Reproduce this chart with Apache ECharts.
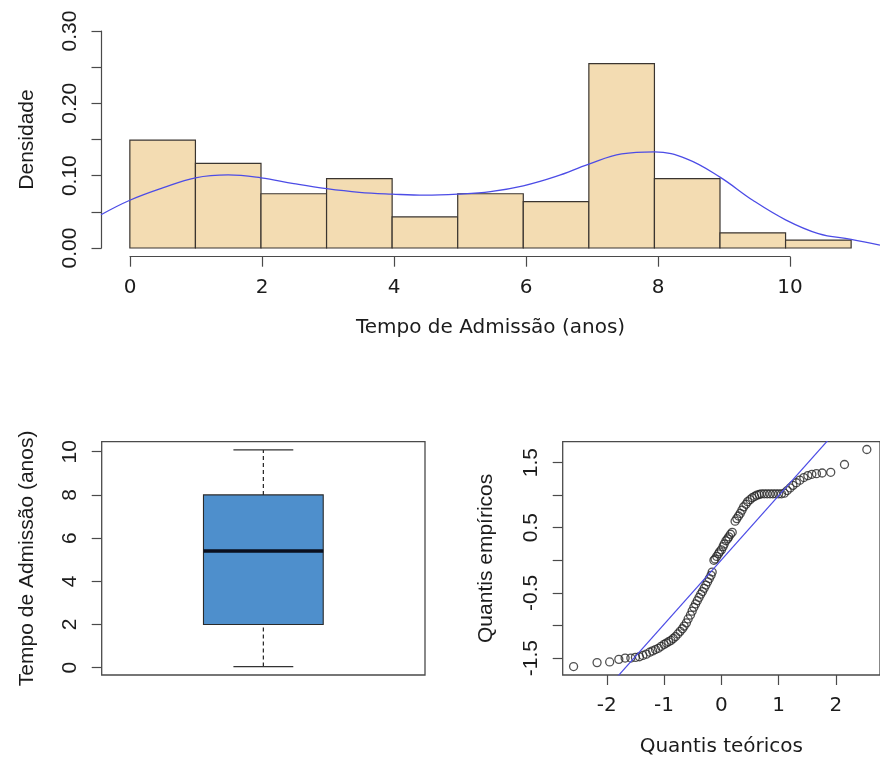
<!DOCTYPE html>
<html>
<head>
    <meta charset="UTF-8">
    <title>Tempo de Admissão</title>
    <script src="https://cdn.jsdelivr.net/npm/echarts@6/dist/echarts.min.js"></script>
    <style>
        html, body { margin: 0; padding: 0; background: #fff; }
        #chart { width: 880px; height: 760px; }
    </style>
</head>
<body>
<div id="chart"></div>
<script>
    // histograma (classes de 1 ano) + densidade
    var binStarts = [0, 1, 2, 3, 4, 5, 6, 7, 8, 9, 10];
    var densidades = [0.149, 0.117, 0.075, 0.096, 0.043, 0.075, 0.064, 0.255, 0.096, 0.021, 0.011];

    var densX = [-0.44, 0, 0.5, 1, 1.5, 2, 2.5, 3, 3.5, 4, 4.5, 5, 5.5, 6, 6.5, 7, 7.5, 8, 8.5, 9, 9.5, 10, 10.5, 11, 11.44];
    var densY = [0.046, 0.066, 0.083, 0.097, 0.101, 0.097, 0.089, 0.082, 0.077, 0.0745, 0.073, 0.0745, 0.078, 0.086, 0.099,
                 0.116, 0.130, 0.133, 0.123, 0.098, 0.066, 0.039, 0.020, 0.012, 0.004];

    var histTicksX = [0, 2, 4, 6, 8, 10];
    var histTicksY = [0, 0.05, 0.10, 0.15, 0.20, 0.25, 0.30];
    var histLabelsY = [0, 0.10, 0.20, 0.30];

    // boxplot: minimo, Q1, mediana, Q3, maximo
    var boxStats = [0.05, 2.0, 5.4, 8.0, 10.08];
    var boxTicks = [0, 2, 4, 6, 8, 10];

    // grafico quantil-quantil
    var qqTeo = [-2.58, -2.17, -1.95, -1.79, -1.68, -1.58, -1.50, -1.43, -1.37, -1.31, -1.25, -1.20, -1.15, -1.10, -1.05,
                 -1.00, -0.96, -0.92, -0.88, -0.84, -0.80, -0.76, -0.72, -0.68, -0.65, -0.61, -0.58, -0.54, -0.51, -0.48,
                 -0.45, -0.42, -0.39, -0.36, -0.33, -0.30, -0.27, -0.24, -0.21, -0.18, -0.16,
                 -0.13, -0.11, -0.08, -0.05, -0.03, 0.00, 0.03, 0.05, 0.08, 0.11, 0.13, 0.16, 0.19,
                 0.24, 0.27, 0.30, 0.33, 0.36, 0.39, 0.43, 0.46, 0.50, 0.54, 0.58, 0.62, 0.66, 0.70, 0.75,
                 0.80, 0.85, 0.90, 0.95, 1.00, 1.05, 1.10, 1.15, 1.20, 1.25, 1.31, 1.37, 1.44, 1.51, 1.58,
                 1.66, 1.76, 1.91, 2.15, 2.54];
    var qqEmp = [-1.63, -1.57, -1.56, -1.52, -1.50, -1.50, -1.49, -1.48, -1.46, -1.44, -1.41, -1.39, -1.37, -1.35, -1.32,
                 -1.29, -1.27, -1.25, -1.23, -1.20, -1.17, -1.13, -1.09, -1.05, -1.01, -0.96, -0.90, -0.84, -0.78, -0.72,
                 -0.67, -0.62, -0.57, -0.52, -0.48, -0.43, -0.38, -0.33, -0.28, -0.23, -0.18,
                 0.00, 0.02, 0.06, 0.10, 0.13, 0.16, 0.21, 0.25, 0.30, 0.33, 0.36, 0.40, 0.43,
                 0.60, 0.64, 0.68, 0.72, 0.77, 0.82, 0.86, 0.90, 0.93, 0.96, 0.98, 1.00, 1.01, 1.02, 1.02,
                 1.02, 1.02, 1.02, 1.02, 1.02, 1.02, 1.03, 1.07, 1.11, 1.15, 1.19, 1.23, 1.27, 1.30, 1.32,
                 1.33, 1.34, 1.35, 1.47, 1.70];
    var qqLineX = [-1.9, 1.9];
    var qqLineY = [-1.87, 1.88];
    var qqTicksX = [-2, -1, 0, 1, 2];
    var qqTicksY = [-1.5, -1, -0.5, 0, 0.5, 1, 1.5];
    var qqLabelsY = [-1.5, -0.5, 0.5, 1.5];

    // textos horizontais um pouco mais largos (a imagem original esta esticada)
    var FONT_H = 'DejaVu Sans, Liberation Sans, sans-serif';
    var FONT_V = 'Liberation Sans, Helvetica, Arial, sans-serif';
    var AXIS_COLOR = '#4a4a4a';
    var TEXT_COLOR = '#1c1c1c';

    function zip(a, b) {
        return a.map(function (v, i) { return [v, b[i]]; });
    }

    var lblH = { fontSize: 20, fontFamily: FONT_H, color: TEXT_COLOR, margin: 21 };
    var lblV = { fontSize: 21, fontFamily: FONT_V, color: TEXT_COLOR, margin: 21 };
    var nameH = { fontSize: 20, fontFamily: FONT_H, color: TEXT_COLOR };
    var nameV = { fontSize: 21, fontFamily: FONT_V, color: TEXT_COLOR };
    var tick = { show: true, length: 10, lineStyle: { color: AXIS_COLOR, width: 1.2 } };
    var noLine = { show: false, onZero: false };

    var myChart = echarts.init(document.getElementById('chart'), null, { renderer: 'canvas' });

    var option = {
        animation: false,
        backgroundColor: '#fff',
        grid: [
            // 0 histograma (dados)
            { left: 101, right: -5, top: 22.3, bottom: 503.3 },
            // 1 eixo x do histograma (0 a 10)
            { left: 130, width: 660, bottom: 503.3, height: 60 },
            // 2 eixo y do histograma (0 a 0.30)
            { left: 101.5, width: 60, top: 31, bottom: 512 },
            // 3 boxplot
            { left: 101.7, width: 323.3, top: 441.7, bottom: 85, show: true, borderColor: AXIS_COLOR, borderWidth: 1.3, backgroundColor: 'transparent' },
            // 4 qq-plot
            { left: 562.7, right: -6, top: 441.7, bottom: 85, show: true, borderColor: AXIS_COLOR, borderWidth: 1.3, backgroundColor: 'transparent' }
        ],
        xAxis: [
            {
                gridIndex: 0, type: 'value', min: -0.44, max: 11.44,
                axisLine: noLine, axisTick: noLine, axisLabel: noLine, splitLine: noLine,
                name: 'Tempo de Admissão (anos)', nameLocation: 'middle', nameGap: 61, nameTextStyle: nameH
            },
            {
                gridIndex: 1, type: 'value', min: 0, max: 10, interval: 2,
                axisLine: { show: true, onZero: false, lineStyle: { color: AXIS_COLOR, width: 1.2 } },
                axisTick: Object.assign({ customValues: histTicksX }, tick),
                axisLabel: Object.assign({ customValues: histTicksX }, lblH),
                splitLine: noLine
            },
            { gridIndex: 2, type: 'value', show: false },
            { gridIndex: 3, type: 'value', min: 0.46, max: 1.54, show: false },
            {
                gridIndex: 4, type: 'value', min: -2.77, max: 2.77,
                axisLine: noLine,
                axisTick: Object.assign({ customValues: qqTicksX }, tick),
                axisLabel: Object.assign({ customValues: qqTicksX }, lblH),
                splitLine: noLine,
                name: 'Quantis teóricos', nameLocation: 'middle', nameGap: 62, nameTextStyle: nameH
            }
        ],
        yAxis: [
            {
                gridIndex: 0, type: 'value', min: -0.012, max: 0.312,
                axisLine: noLine, axisTick: noLine, axisLabel: noLine, splitLine: noLine,
                name: 'Densidade', nameLocation: 'middle', nameGap: 63, nameTextStyle: nameV
            },
            { gridIndex: 1, type: 'value', show: false },
            {
                gridIndex: 2, type: 'value', min: 0, max: 0.3, interval: 0.05,
                axisLine: { show: true, onZero: false, lineStyle: { color: AXIS_COLOR, width: 1.2 } },
                axisTick: Object.assign({ customValues: histTicksY }, tick),
                axisLabel: Object.assign({
                    customValues: histLabelsY, rotate: 90,
                    formatter: function (v) { return v.toFixed(2); }
                }, lblV),
                splitLine: noLine
            },
            {
                gridIndex: 3, type: 'value', min: -0.338, max: 10.463,
                axisLine: noLine,
                axisTick: Object.assign({ customValues: boxTicks }, tick),
                axisLabel: Object.assign({ customValues: boxTicks, rotate: 90 }, lblV),
                splitLine: noLine,
                name: 'Tempo de Admissão (anos)', nameLocation: 'middle', nameGap: 64, nameTextStyle: nameV
            },
            {
                gridIndex: 4, type: 'value', min: -1.76, max: 1.82,
                axisLine: noLine,
                axisTick: Object.assign({ customValues: qqTicksY }, tick),
                axisLabel: Object.assign({
                    customValues: qqLabelsY, rotate: 90,
                    formatter: function (v) { return v.toFixed(1); }
                }, lblV),
                splitLine: noLine,
                name: 'Quantis empíricos', nameLocation: 'middle', nameGap: 66, nameTextStyle: nameV
            }
        ],
        series: [
            {
                // barras do histograma
                type: 'custom',
                xAxisIndex: 0, yAxisIndex: 0,
                data: binStarts.map(function (s, i) { return [s, s + 1, densidades[i]]; }),
                encode: { x: [0, 1], y: 2 },
                renderItem: function (params, api) {
                    var p0 = api.coord([api.value(0), 0]);
                    var p1 = api.coord([api.value(1), api.value(2)]);
                    return {
                        type: 'rect',
                        shape: { x: p0[0], y: p1[1], width: p1[0] - p0[0], height: p0[1] - p1[1] },
                        style: { fill: '#F3DCB2', stroke: '#3a3530', lineWidth: 1.2 }
                    };
                }
            },
            {
                // curva de densidade
                type: 'line',
                xAxisIndex: 0, yAxisIndex: 0,
                data: zip(densX, densY),
                smooth: 0.4,
                showSymbol: false,
                lineStyle: { color: '#4c4ce6', width: 1.3 },
                z: 3
            },
            {
                // boxplot
                type: 'custom',
                xAxisIndex: 3, yAxisIndex: 3,
                data: [[1].concat(boxStats)],
                encode: { x: 0, y: [1, 2, 3, 4, 5] },
                renderItem: function (params, api) {
                    var x = api.value(0);
                    var hw = 0.2, cw = 0.1;
                    var pMin = api.coord([x, api.value(1)]);
                    var pQ1 = api.coord([x, api.value(2)]);
                    var pMed = api.coord([x, api.value(3)]);
                    var pQ3 = api.coord([x, api.value(4)]);
                    var pMax = api.coord([x, api.value(5)]);
                    var xl = api.coord([x - hw, 0])[0], xr = api.coord([x + hw, 0])[0];
                    var cl = api.coord([x - cw, 0])[0], cr = api.coord([x + cw, 0])[0];
                    var dash = { stroke: '#222', lineWidth: 1.2, lineDash: [4, 3] };
                    var solid = { stroke: '#333', lineWidth: 1.2 };
                    return {
                        type: 'group',
                        children: [
                            { type: 'line', shape: { x1: pMin[0], y1: pMin[1], x2: pQ1[0], y2: pQ1[1] }, style: dash },
                            { type: 'line', shape: { x1: pQ3[0], y1: pQ3[1], x2: pMax[0], y2: pMax[1] }, style: dash },
                            { type: 'line', shape: { x1: cl, y1: pMin[1], x2: cr, y2: pMin[1] }, style: solid },
                            { type: 'line', shape: { x1: cl, y1: pMax[1], x2: cr, y2: pMax[1] }, style: solid },
                            {
                                type: 'rect',
                                shape: { x: xl, y: pQ3[1], width: xr - xl, height: pQ1[1] - pQ3[1] },
                                style: { fill: '#4E8FCC', stroke: '#2a2a2a', lineWidth: 1.1 }
                            },
                            { type: 'line', shape: { x1: xl, y1: pMed[1], x2: xr, y2: pMed[1] }, style: { stroke: '#0a0f1e', lineWidth: 3.5 } }
                        ]
                    };
                }
            },
            {
                // quantis
                type: 'scatter',
                xAxisIndex: 4, yAxisIndex: 4,
                data: zip(qqTeo, qqEmp),
                symbol: 'circle',
                symbolSize: 8,
                itemStyle: { color: 'rgba(0,0,0,0)', borderColor: '#262626', borderWidth: 1.3 },
                z: 2
            },
            {
                // reta de referencia
                type: 'line',
                xAxisIndex: 4, yAxisIndex: 4,
                data: zip(qqLineX, qqLineY),
                showSymbol: false,
                clip: true,
                lineStyle: { color: '#4c4ce6', width: 1.2 },
                z: 3
            }
        ]
    };

    myChart.setOption(option);
</script>
</body>
</html>
